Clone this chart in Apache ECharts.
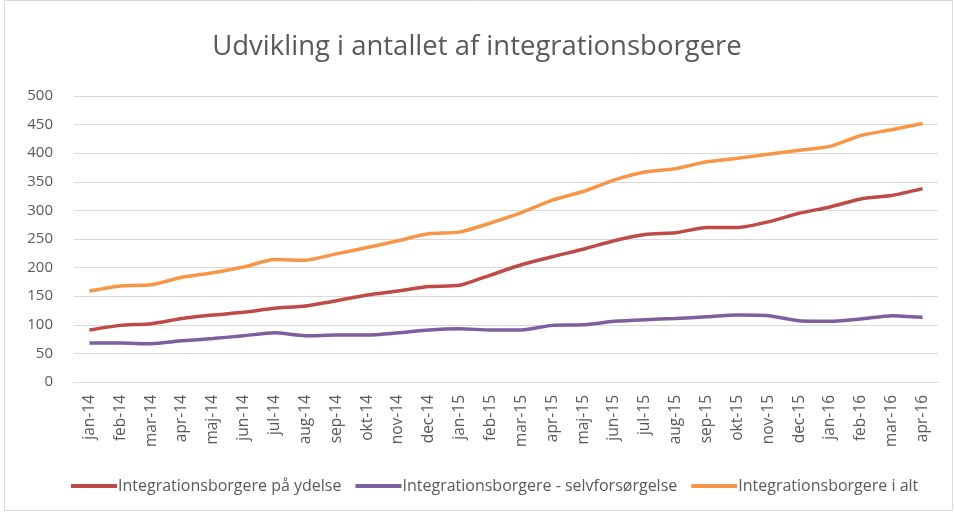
<!DOCTYPE html>
<html>
<head>
<meta charset="utf-8">
<script src="https://cdn.jsdelivr.net/npm/echarts@6/dist/echarts.min.js"></script>
<style>html,body{margin:0;padding:0;background:#fff}#c{width:954px;height:513px}</style>
</head>
<body>
<div id="c"></div>
<script>
const categories = ["jan-14","feb-14","mar-14","apr-14","maj-14","jun-14","jul-14","aug-14","sep-14","okt-14","nov-14","dec-14","jan-15","feb-15","mar-15","apr-15","maj-15","jun-15","jul-15","aug-15","sep-15","okt-15","nov-15","dec-15","jan-16","feb-16","mar-16","apr-16"];
const paaYdelse = [91,99,102,111,117,122,129,133,142,152,159,167,169,187,205,219,232,247,258,261,270,270,280,295,306,320,326,338];
const selvforsorgelse = [68,68,67,72,76,81,86,81,82,82,86,91,93,91,91,99,100,106,109,111,114,117,116,107,106,110,116,113];
const iAlt = [159,168,170,183,191,201,214,213,224,235,247,259,262,278,296,318,333,353,367,373,385,391,398,405,412,431,441,452];
const yTicks = [0,50,100,150,200,250,300,350,400,450,500];
const seriesNames = ["Integrationsborgere på ydelse","Integrationsborgere - selvforsørgelse","Integrationsborgere i alt"];

const chart = echarts.init(document.getElementById('c'), null, {renderer:'canvas'});
const font = "'Open Sans', 'Liberation Sans', sans-serif";
const mk = (name, data, color) => ({
  name, type:'line', data, symbol:'none', smooth:0.2,
  lineStyle:{color, width:3.5}, itemStyle:{color}
});
chart.setOption({
  animation:false,
  backgroundColor:'#fff',
  title:{text:'Udvikling i antallet af integrationsborgere', left:'center', top:28,
    textStyle:{fontFamily:font, fontSize:27.5, fontWeight:'normal', color:'#595959'}},
  grid:{left:74, right:16, top:96, bottom:131},
  xAxis:{type:'category', data:categories, boundaryGap:true,
    axisLine:{lineStyle:{color:'#d9d9d9'}}, axisTick:{show:false},
    axisLabel:{rotate:90, color:'#595959', fontFamily:font, fontSize:15.5, margin:13, interval:0}},
  yAxis:{type:'value', min:yTicks[0], max:yTicks[yTicks.length-1], interval:50,
    axisLine:{show:false}, axisTick:{show:false},
    splitLine:{lineStyle:{color:'#d9d9d9', width:1}},
    axisLabel:{color:'#595959', fontFamily:font, fontSize:15, margin:21}},
  legend:{bottom:14, left:66, itemWidth:46, itemHeight:4, itemGap:14,
    icon:'rect',
    textStyle:{color:'#595959', fontFamily:font, fontSize:16, padding:[0,0,0,-4]},
    data:seriesNames},
  graphic:[{type:'rect', shape:{x:4.5,y:0.5,width:948,height:510}, style:{fill:'none', stroke:'#d9d9d9', lineWidth:1}, silent:true}],
  series:[
    mk(seriesNames[0], paaYdelse, '#be4b48'),
    mk(seriesNames[1], selvforsorgelse, '#7d5fa0'),
    mk(seriesNames[2], iAlt, '#f79646')
  ]
});
</script>
</body>
</html>
